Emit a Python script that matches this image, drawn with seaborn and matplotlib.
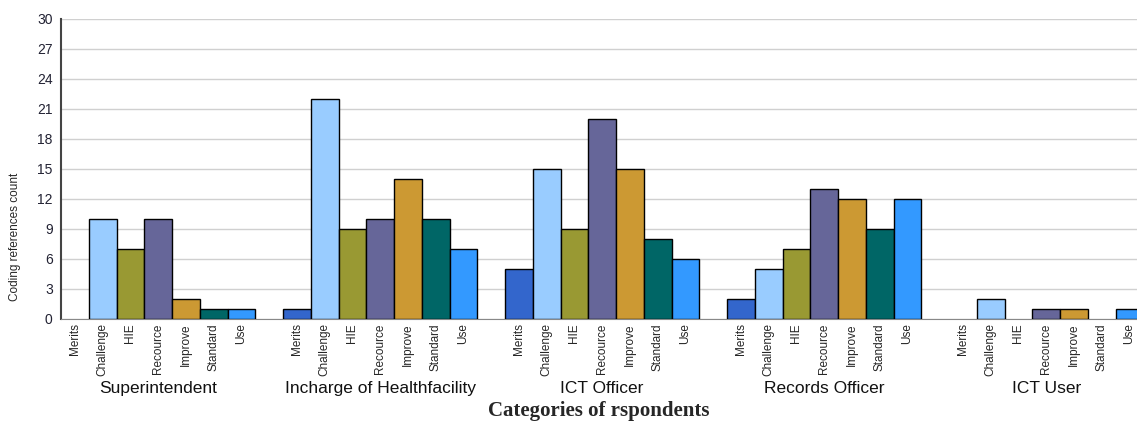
import matplotlib
matplotlib.use("Agg")
import matplotlib.pyplot as plt
import seaborn as sns
import pandas as pd

# respondent groups and coded themes
groups = ["Superintendent", "Incharge of Healthfacility", "ICT Officer",
          "Records Officer", "ICT User"]
categories = ["Merits", "Challenge", "HIE", "Recource", "Improve", "Standard", "Use"]

superintendent = [0, 10, 7, 10, 2, 1, 1]
incharge = [1, 22, 9, 10, 14, 10, 7]
ict_officer = [5, 15, 9, 20, 15, 8, 6]
records_officer = [2, 5, 7, 13, 12, 9, 12]
ict_user = [0, 2, 0, 1, 1, 0, 1]

colors = ["#3366CC", "#99CCFF", "#999933", "#666699", "#CC9933", "#006666", "#3399FF"]

rows = []
for g, vals in zip(groups, [superintendent, incharge, ict_officer, records_officer, ict_user]):
    for c, v in zip(categories, vals):
        rows.append({"group": g, "category": c, "count": v})
df = pd.DataFrame(rows)

sns.set_style("white")
plt.rcParams["font.family"] = ["Liberation Sans", "DejaVu Sans"]

W, H = 1137, 421
fig = plt.figure(figsize=(W / 100, H / 100), dpi=100)
ax = fig.add_axes([61 / W, 102 / H, 1 - 61 / W, 300 / H])

sns.barplot(data=df, x="group", y="count", hue="category", hue_order=categories,
            order=groups, palette=colors, width=0.875, saturation=1,
            edgecolor="black", linewidth=1, legend=False, ax=ax, zorder=3)

# empty bars leave no outline
for p in ax.patches:
    if p.get_height() == 0:
        p.set_linewidth(0)

ax.set_ylim(0, 30)
ax.set_yticks(range(0, 31, 3))
ax.set_xlim(-0.4375, -0.4375 + 1076 / 222)
ax.yaxis.grid(True, color="#d0d0d0", linewidth=1, zorder=0)
ax.set_axisbelow(True)

for s in ["top", "right"]:
    ax.spines[s].set_visible(False)
ax.spines["left"].set_color("#444444")
ax.spines["left"].set_linewidth(1.5)
ax.spines["bottom"].set_color("#888888")

# per-bar category ticks
ticks, labels = [], []
for j, cont in enumerate(ax.containers):
    for bar in cont:
        ticks.append(bar.get_x() + bar.get_width() / 2)
        labels.append(categories[j])
ax.set_xticks(ticks)
ax.set_xticklabels(labels, rotation=90, fontsize=8.5, va="top", ha="center")
ax.tick_params(axis="x", length=0, pad=3)
ax.tick_params(axis="y", length=3, width=1, color="#666666", pad=3,
               labelsize=10, labelcolor="#222233")
ax.set_xlabel("")
ax.set_ylabel("")

for i, g in enumerate(groups):
    ax.text(i, -0.233, g, transform=ax.get_xaxis_transform(), ha="center",
            va="center", fontsize=12.5, color="#111111")

ax.text(0.5, -0.307, "Categories of rspondents", transform=ax.transAxes,
        ha="center", va="center", fontsize=15, fontweight="bold",
        family=["Liberation Serif", "DejaVu Serif"])
ax.text(-0.0428, 0.273, "Coding references count", transform=ax.transAxes,
        ha="center", va="center", rotation=90, fontsize=8.5)

fig.savefig("out.png", dpi=100)
